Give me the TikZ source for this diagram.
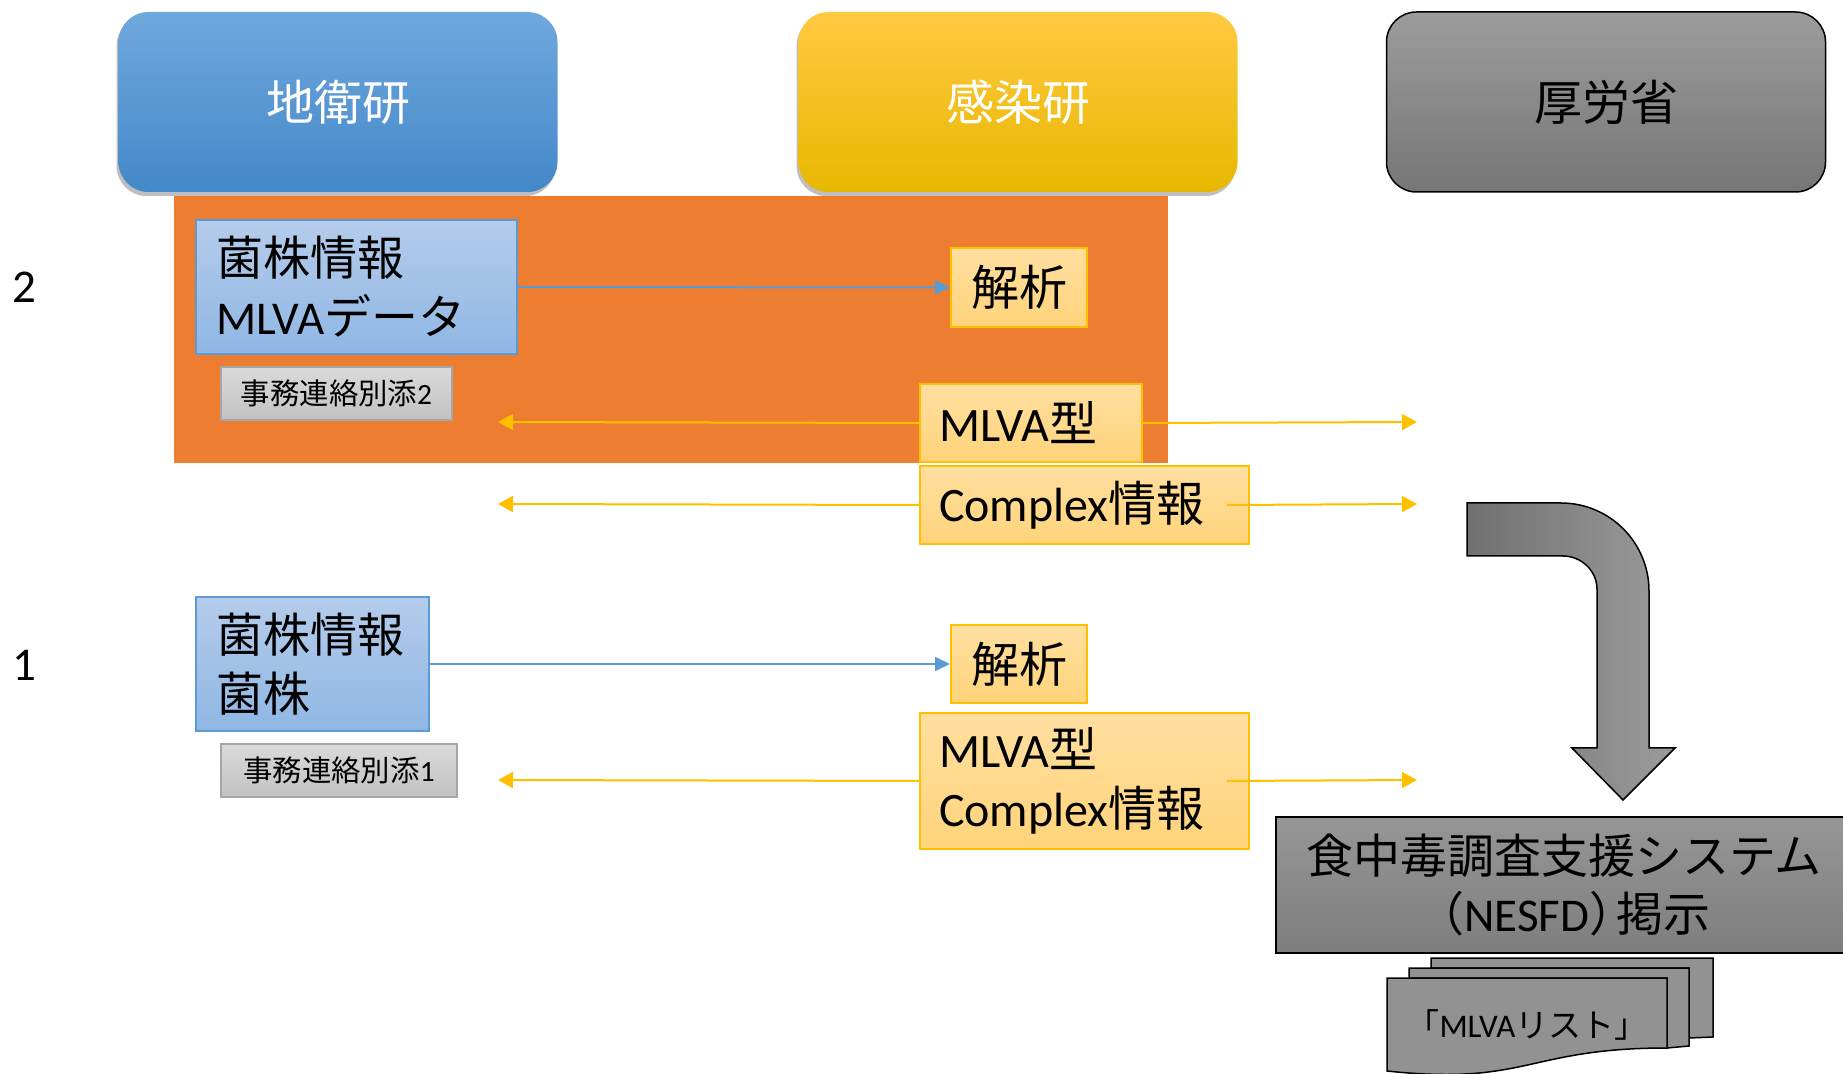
\documentclass[tikz,border=0pt]{standalone}
\usepackage{fontspec}
\setmainfont{Carlito}
\newfontfamily\jpfont{Noto Sans CJK JP}
\newcommand{\jtxt}[1]{{\jpfont #1}}
\usetikzlibrary{shadows,arrows.meta}

\definecolor{zoneorange}{RGB}{237,125,49}
\definecolor{lineblue}{RGB}{91,155,213}
\definecolor{linegold}{RGB}{255,192,0}
\definecolor{headbluetop}{RGB}{112,168,221}
\definecolor{headbluebot}{RGB}{67,136,201}
\definecolor{headgoldtop}{RGB}{255,201,66}
\definecolor{headgoldmid}{RGB}{255,199,0}
\definecolor{headgoldbot}{RGB}{232,184,0}
\definecolor{headgraytop}{RGB}{156,156,156}
\definecolor{headgraybot}{RGB}{118,118,118}
\definecolor{straintop}{RGB}{181,204,235}
\definecolor{strainbot}{RGB}{143,183,228}
\definecolor{notetop}{RGB}{218,218,218}
\definecolor{notebot}{RGB}{194,194,194}
\definecolor{noteline}{RGB}{166,166,166}
\definecolor{resulttop}{RGB}{255,223,160}
\definecolor{resultbot}{RGB}{255,211,122}
\definecolor{sysgraytop}{RGB}{150,150,150}
\definecolor{sysgraybot}{RGB}{126,126,126}
\definecolor{docgray}{RGB}{146,146,146}
\definecolor{bendleft}{RGB}{112,112,112}
\definecolor{bendright}{RGB}{156,156,156}

\begin{document}
\begin{tikzpicture}[x=0.5pt,y=-0.5pt,line width=1pt,
  orghead/.style={rectangle,rounded corners=15pt,minimum width=219.5pt,minimum height=90pt,
    font=\jpfont\fontsize{24}{28}\selectfont},
  shadowed/.style={drop shadow={shadow xshift=-1pt,shadow yshift=-2pt,opacity=0.5}},
  strainbox/.style={rectangle,draw=lineblue,top color=straintop,bottom color=strainbot,
    anchor=north west,align=left,inner xsep=10pt,minimum height=67pt,
    font=\fontsize{23.5}{29.5}\selectfont},
  notebox/.style={rectangle,draw=noteline,top color=notetop,bottom color=notebot,
    anchor=north west,minimum height=26.5pt,font=\fontsize{14.7}{17}\selectfont},
  resultbox/.style={rectangle,draw=linegold,top color=resulttop,bottom color=resultbot,
    anchor=north west,align=left,inner xsep=9.5pt,font=\fontsize{24}{29.5}\selectfont},
  sysbox/.style={rectangle,draw=black,top color=sysgraytop,bottom color=sysgraybot,
    anchor=north west,align=center,font=\fontsize{23.5}{29}\selectfont},
  sendarrow/.style={draw=lineblue,-{Triangle[length=7.5pt,width=7pt]}},
  backarrow/.style={draw=linegold,-{Triangle[length=7.5pt,width=8pt]}}]
\useasboundingbox (0,0) rectangle (1843,1074);

% stage 2 background
\path (173,195) node[rectangle,fill=zoneorange,anchor=north west,minimum width=497pt,minimum height=133.5pt,inner sep=0pt] (zone2) {};

\path
(338,102) node[orghead,shadowed,top color=headbluetop,bottom color=headbluebot,text=white] (chieiken) {地衛研}
(1018,102) node[orghead,shadowed,top color=headgoldtop,middle color=headgoldmid,bottom color=headgoldbot,text=white] (kansenken) {感染研}
(1606,102) node[orghead,draw=black,line width=0.75pt,top color=headgraytop,bottom color=headgraybot] (mhlw) {厚労省}

(24,287) node[font=\fontsize{23.5}{28}\selectfont] (stagetwo) {2}
(24,665) node[font=\fontsize{23.5}{28}\selectfont] (stageone) {1}

(195,219) node[strainbox,text width=140.5pt] (strain2) {\jtxt{菌株情報}\\MLVA\jtxt{データ}}
(220,366) node[notebox,minimum width=115.5pt] (note2) {\jtxt{事務連絡別添}2}
(950,247) node[resultbox,align=center,inner xsep=0pt,minimum width=68pt,minimum height=39.5pt] (anal2) {\jtxt{解析}}
(919,383) node[resultbox,text width=92pt,minimum height=39pt] (mlva2) {MLVA\jtxt{型}}
(919,465) node[resultbox,text width=145.5pt,minimum height=39pt] (cplx2) {Complex\jtxt{情報}}

(195,596) node[strainbox,text width=96.5pt] (strain1) {\jtxt{菌株情報}\\\jtxt{菌株}}
(220,743) node[notebox,minimum width=118pt] (note1) {\jtxt{事務連絡別添}1}
(950,624) node[resultbox,align=center,inner xsep=0pt,minimum width=68pt,minimum height=39pt] (anal1) {\jtxt{解析}}
(919,712) node[resultbox,text width=145.5pt,minimum height=68pt] (res1) {MLVA\jtxt{型}\\Complex\jtxt{情報}}

(1275,816) node[sysbox,minimum width=288pt,minimum height=68pt] (nesfd) {\jtxt{食中毒調査支援システム}\\\jtxt{（}NESFD\jtxt{）}\kern-0.42em\jtxt{掲示}}
;

% multi document
\filldraw[fill=docgray,draw=black,line width=0.75pt] (1431,958) -- (1713,958) -- (1713,1037) -- (1689,1038) -- (1689,968) -- (1431,968) -- cycle;
\filldraw[fill=docgray,draw=black,line width=0.75pt] (1409,968) -- (1689,968) -- (1689,1046) -- (1667,1048) -- (1667,978) -- (1409,978) -- cycle;
\filldraw[fill=docgray,draw=black,line width=0.75pt] (1387,978) -- (1667,978) -- (1667,1048) .. controls (1527,1048) and (1527,1086) .. (1387,1071) -- cycle;
\node[font=\fontsize{16.5}{19}\selectfont] (mlvalist) at (1527,1025) {\jtxt{「}MLVA\jtxt{リスト」}};

% bent arrow
\shade[left color=bendleft,right color=bendright,draw=black,line width=0.75pt]
  (1467,503) -- (1561,503) .. controls (1609.6,503) and (1649,542.4) .. (1649,591)
  -- (1649,748) -- (1675,748) -- (1623,800) -- (1572,748) -- (1597,748) -- (1597,589)
  .. controls (1597,570.8) and (1581.2,556) .. (1563,556) -- (1467,556) -- cycle;

\coordinate (lhsmlva2) at (498,422);
\coordinate (rhsmlva2) at (1417,422);
\coordinate (lhscplx2) at (498,504);
\coordinate (rhscplx2) at (1417,504);
\coordinate (lhsres1) at (498,780);
\coordinate (rhsres1) at (1417,780);

\draw[sendarrow] (strain2.east) -- (anal2.west);
\draw[sendarrow] (strain1.east) -- (anal1.west);
\draw[backarrow] (mlva2.west) -- (lhsmlva2);
\draw[backarrow] (mlva2.east) -- (rhsmlva2);
\draw[backarrow] (cplx2.west) -- (lhscplx2);
\draw[backarrow] ([xshift=-11.5pt]cplx2.east) -- (rhscplx2);
\draw[backarrow] (res1.west) -- (lhsres1);
\draw[backarrow] ([xshift=-11.5pt]res1.east) -- (rhsres1);
\end{tikzpicture}
\end{document}
